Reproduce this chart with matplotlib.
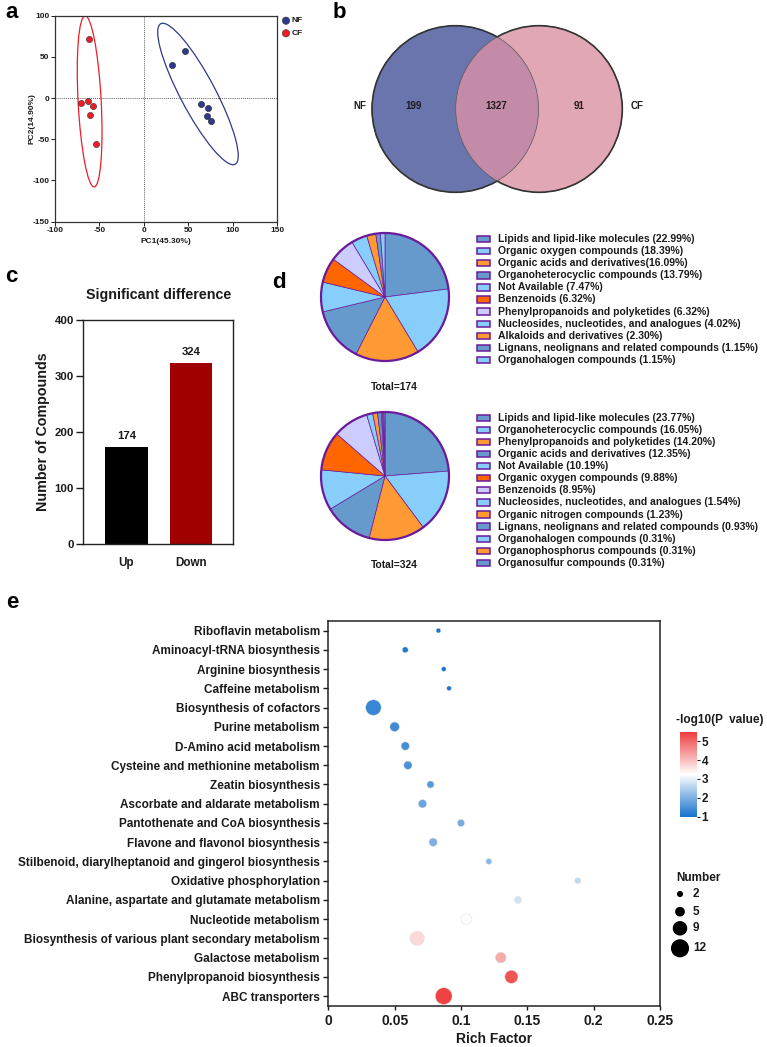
import matplotlib
matplotlib.use('Agg')
import matplotlib.pyplot as plt
from matplotlib.patches import Ellipse, Circle, Rectangle, Arc
from matplotlib.colors import LinearSegmentedColormap, Normalize
import numpy as np

plt.rcParams['font.family'] = ['Liberation Sans', 'DejaVu Sans']
plt.rcParams['font.weight'] = 'bold'
plt.rcParams['axes.labelweight'] = 'bold'
plt.rcParams['axes.unicode_minus'] = False

# ---------------- data ----------------
# panel a (PCA)
nf_x = [32, 46, 64, 72, 71, 76]
nf_y = [40, 57, -7, -12, -22, -28]
cf_x = [-62, -71, -63, -57, -61, -54]
cf_y = [72, -6, -4, -10, -21, -56]
pca_stats = ['R=0.99', 'P=0.004']

# panel b (Venn)
venn_sets = ['NF', 'CF']
venn_counts = [199, 1327, 91]

# panel c (bar)
bar_cats = ['Up', 'Down']
bar_vals = [174, 324]

# panel d (pies)
pie1_labels = ['Lipids and lipid-like molecules (22.99%)',
               'Organic oxygen compounds (18.39%)',
               'Organic acids and derivatives(16.09%)',
               'Organoheterocyclic compounds (13.79%)',
               'Not Available (7.47%)',
               'Benzenoids (6.32%)',
               'Phenylpropanoids and polyketides (6.32%)',
               'Nucleosides, nucleotides, and analogues (4.02%)',
               'Alkaloids and derivatives (2.30%)',
               'Lignans, neolignans and related compounds (1.15%)',
               'Organohalogen compounds (1.15%)']
pie1_vals = [22.99, 18.39, 16.09, 13.79, 7.47, 6.32, 6.32, 4.02, 2.30, 1.15, 1.15]
pie1_total = 174

pie2_labels = ['Lipids and lipid-like molecules (23.77%)',
               'Organoheterocyclic compounds (16.05%)',
               'Phenylpropanoids and polyketides (14.20%)',
               'Organic acids and derivatives (12.35%)',
               'Not Available (10.19%)',
               'Organic oxygen compounds (9.88%)',
               'Benzenoids (8.95%)',
               'Nucleosides, nucleotides, and analogues (1.54%)',
               'Organic nitrogen compounds (1.23%)',
               'Lignans, neolignans and related compounds (0.93%)',
               'Organohalogen compounds (0.31%)',
               'Organophosphorus compounds (0.31%)',
               'Organosulfur compounds (0.31%)']
pie2_vals = [23.77, 16.05, 14.20, 12.35, 10.19, 9.88, 8.95, 1.54, 1.23, 0.93, 0.31, 0.31, 0.31]
pie2_total = 324

# panel e (KEGG bubble)
pathways = ['Riboflavin metabolism',
            'Aminoacyl-tRNA biosynthesis',
            'Arginine biosynthesis',
            'Caffeine metabolism',
            'Biosynthesis of cofactors',
            'Purine metabolism',
            'D-Amino acid metabolism',
            'Cysteine and methionine metabolism',
            'Zeatin biosynthesis',
            'Ascorbate and aldarate metabolism',
            'Pantothenate and CoA biosynthesis',
            'Flavone and flavonol biosynthesis',
            'Stilbenoid, diarylheptanoid and gingerol biosynthesis',
            'Oxidative phosphorylation',
            'Alanine, aspartate and glutamate metabolism',
            'Nucleotide metabolism',
            'Biosynthesis of various plant secondary metabolism',
            'Galactose metabolism',
            'Phenylpropanoid biosynthesis',
            'ABC transporters']
rich_factor = [0.083, 0.058, 0.087, 0.091, 0.034, 0.050, 0.058, 0.060, 0.077, 0.071,
               0.100, 0.079, 0.121, 0.188, 0.143, 0.104, 0.067, 0.130, 0.138, 0.087]
neglog_p = [1.0, 1.1, 1.05, 1.05, 1.3, 1.4, 1.45, 1.5, 1.6, 1.8,
            1.9, 2.0, 2.1, 2.6, 2.8, 3.3, 3.7, 4.2, 5.2, 5.4]
counts = [2, 3, 2, 2, 11, 6, 5, 5, 4, 5, 4, 5, 3, 3, 4, 7, 10, 7, 9, 12]
size_legend = [2, 5, 9, 12]
rich_ticks = [0, 0.05, 0.1, 0.15, 0.2, 0.25]
rich_ticklabels = ['0', '0.05', '0.1', '0.15', '0.2', '0.25']

# ---------------- figure ----------------
W, H = 767, 1047
fig = plt.figure(figsize=(W / 100, H / 100), dpi=100)


def px_axes(l, t, r, b):
    return fig.add_axes([l / W, 1 - b / H, (r - l) / W, (b - t) / H])


ov = fig.add_axes([0, 0, 1, 1], zorder=-1)
ov.set_xlim(0, W)
ov.set_ylim(H, 0)
ov.axis('off')

TXT = '#1a1a1a'

# panel labels
for lab, x, y in [('a', 5, 13), ('b', 333, 13), ('c', 5, 277), ('d', 272, 283), ('e', 6, 603)]:
    ov.text(x, y, lab, fontsize=16, fontweight='bold', ha='left', va='center', color='black')

# ---------------- panel a ----------------
axa = px_axes(55, 15.7, 277, 221.7)
NAVY = '#2E3A8C'
RED = '#EE1C25'
axa.add_patch(Ellipse((61, 5), 190, 40, angle=-64, fill=False, ec=NAVY, lw=0.9))
axa.add_patch(Ellipse((-61, -4), 208, 26, angle=92.8, fill=False, ec=RED, lw=0.9))
axa.axvline(0, color='#222222', ls=(0, (1, 1.5)), lw=0.6)
axa.axhline(0, color='#222222', ls=(0, (1, 1.5)), lw=0.6)
axa.scatter(nf_x, nf_y, s=20, color=NAVY, edgecolor='#222222', lw=0.4, zorder=3)
axa.scatter(cf_x, cf_y, s=20, color=RED, edgecolor='#333333', lw=0.4, zorder=3)
axa.set_xlim(-100, 150)
axa.set_ylim(-150, 100)
axa.set_xticks([-100, -50, 0, 50, 100, 150])
axa.set_yticks([-150, -100, -50, 0, 50, 100])
axa.tick_params(labelsize=6, length=3, width=0.7, pad=1, colors=TXT)
for s in axa.spines.values():
    s.set_linewidth(0.9)
    s.set_color('#333333')
ov.text(166, 241.7, 'PC1(45.30%)', fontsize=6, fontweight='bold', ha='center', va='center', color=TXT)
ov.text(31.7, 118.7, 'PC2(14.90%)', fontsize=6, fontweight='bold', ha='center', va='center',
        rotation=90, color=TXT)
ov.text(240.7, 23.3, pca_stats[0], fontsize=5.8, fontweight='bold', ha='left', va='center', color=TXT)
ov.text(240.7, 32.3, pca_stats[1], fontsize=5.8, fontweight='bold', ha='left', va='center', color=TXT)
ov.scatter([286, 286], [20.7, 33.3], s=28, c=[NAVY, RED], edgecolors='#333333', linewidths=0.4)
ov.text(291.5, 20.7, venn_sets[0], fontsize=6, fontweight='bold', ha='left', va='center', color=TXT)
ov.text(291.5, 33.3, venn_sets[1], fontsize=6, fontweight='bold', ha='left', va='center', color=TXT)

# ---------------- panel b ----------------
axb = px_axes(340, 15, 650, 205)
axb.set_xlim(0, 310)
axb.set_ylim(190, 0)
axb.axis('off')
r = 83.3
cl = (115.3, 94.0)
cr = (199.0, 94.0)
cL = Circle(cl, r, fc='#6A75AD', ec='none')
cR = Circle(cr, r, fc='#E1A7B5', ec='none')
axb.add_patch(cL)
axb.add_patch(cR)
cO = Circle(cr, r, fc='#C48BA8', ec='none')
axb.add_patch(cO)
cO.set_clip_path(cL)
d = cr[0] - cl[0]
th = np.degrees(np.arccos((d / 2) / r))
axb.add_patch(Circle(cl, r, fill=False, ec='#555555', lw=0.5))
axb.add_patch(Circle(cr, r, fill=False, ec='#555555', lw=0.5))
axb.add_patch(Arc(cl, 2 * r, 2 * r, theta1=th, theta2=360 - th, ec='#333333', lw=1.2))
axb.add_patch(Arc(cr, 2 * r, 2 * r, theta1=-(180 - th), theta2=180 - th, ec='#333333', lw=1.2))
vy = 91
axb.text(20, vy, venn_sets[0], fontsize=7, fontweight='bold', ha='center', va='center', color=TXT)
axb.text(73.3, vy, str(venn_counts[0]), fontsize=7, fontweight='bold', ha='center', va='center', color=TXT)
axb.text(156.7, vy, str(venn_counts[1]), fontsize=7, fontweight='bold', ha='center', va='center', color=TXT)
axb.text(239.3, vy, str(venn_counts[2]), fontsize=7, fontweight='bold', ha='center', va='center', color=TXT)
axb.text(296.7, vy, venn_sets[1], fontsize=7, fontweight='bold', ha='center', va='center', color=TXT)

# ---------------- panel c ----------------
axc = px_axes(83.3, 320, 233.3, 544.3)
xc = np.arange(len(bar_cats))
bars = axc.bar(xc, bar_vals, width=0.662, color=['#000000', '#A00000'])
axc.bar_label(bars, labels=[str(v) for v in bar_vals], padding=4, fontsize=8.2, fontweight='bold', color=TXT)
axc.set_xlim(-0.67, 1.66)
axc.set_ylim(0, 400)
axc.set_yticks([0, 100, 200, 300, 400])
axc.set_xticks(xc)
axc.set_xticklabels(bar_cats)
axc.tick_params(axis='y', labelsize=8.2, length=4.8, width=1, pad=1.9, colors=TXT)
axc.tick_params(axis='x', labelsize=8.4, length=0, pad=9, colors=TXT)
for s in axc.spines.values():
    s.set_linewidth(1.0)
    s.set_color('#222222')
ov.text(158.3, 295, 'Significant difference', fontsize=10.3, fontweight='bold', ha='center', va='center', color=TXT)
ov.text(43, 432, 'Number of Compounds', fontsize=10.3, fontweight='bold', ha='center', va='center',
        rotation=90, color=TXT)

# ---------------- panel d ----------------
SB = '#6699CC'
LB = '#87CEFA'
OR = '#FF9933'
RO = '#FF6600'
LV = '#CCCCFF'
PURP = '#6A1B9A'
cycle = [SB, LB, OR, SB, LB, RO, LV, LB, OR, SB, LB, OR, SB]


def draw_pie(cx, cy, rad, vals, labels, total, ty, ly0):
    m = rad * 1.04
    ax = px_axes(cx - m, cy - m, cx + m, cy + m)
    cols = cycle[:len(vals)]
    ax.pie(vals, colors=cols, startangle=90, counterclock=False,
           wedgeprops=dict(edgecolor=PURP, linewidth=0.5))
    ax.add_patch(Circle((0, 0), 1, fill=False, ec=PURP, lw=1.6))
    ax.set_xlim(-1.04, 1.04)
    ax.set_ylim(-1.04, 1.04)
    ax.set_aspect('equal')
    ax.axis('off')
    ov.text(394, ty, f'Total={total}', fontsize=7.4, fontweight='bold', ha='center', va='center', color=TXT)
    dy = 12.1
    for i, (lab, col) in enumerate(zip(labels, cols)):
        y = ly0 + i * dy
        ov.add_patch(Rectangle((476.5, y - 3.2), 13, 6.4, fc=col, ec=PURP, lw=1.1))
        ov.text(497.7, y, lab, fontsize=7.5, fontweight='bold', ha='left', va='center', color=TXT)


draw_pie(385, 297, 64, pie1_vals, pie1_labels, pie1_total, 387, 239)
draw_pie(385, 476, 64, pie2_vals, pie2_labels, pie2_total, 565, 417.7)

# ---------------- panel e ----------------
axe = px_axes(328.3, 621, 660, 1005.7)
cmap = LinearSegmentedColormap.from_list('bwr_custom', ['#1874CD', '#FFFFFF', '#EE3B3B'])
norm = Normalize(1, 5.5)


def bubble_size(n):
    return ((2.3 + 1.2 * np.asarray(n, dtype=float)) * 0.72) ** 2


ye = np.arange(len(pathways))
sc = axe.scatter(rich_factor, ye, s=bubble_size(counts), c=neglog_p, cmap=cmap, norm=norm,
                 edgecolors='#dddddd', linewidths=0.3, zorder=3)
axe.set_ylim(len(pathways) - 0.5, -0.5)
axe.set_yticks(ye)
axe.set_yticklabels(pathways)
axe.set_xlim(0, 0.25)
axe.set_xticks(rich_ticks)
axe.set_xticklabels(rich_ticklabels)
axe.tick_params(axis='y', labelsize=8.5, length=3.5, width=1, pad=2.5, colors=TXT)
axe.tick_params(axis='x', labelsize=10, length=3, width=1, pad=3, colors=TXT)
for s in axe.spines.values():
    s.set_linewidth(1.1)
    s.set_color('#222222')
axe.set_xlabel('Rich Factor', fontsize=10, fontweight='bold', labelpad=3, color=TXT)

cax = px_axes(680, 731.7, 696.7, 816.7)
cb = fig.colorbar(sc, cax=cax)
cb.set_ticks([1, 2, 3, 4, 5])
cb.outline.set_visible(False)
cax.tick_params(labelsize=8.5, length=2, width=0.8, pad=1.5, colors=TXT)
for t in cax.get_yticklabels():
    t.set_fontweight('bold')
ov.text(676, 720, '-log10(P  value)', fontsize=8.5, fontweight='bold', ha='left', va='center', color=TXT)

ov.text(676, 878, 'Number', fontsize=8.5, fontweight='bold', ha='left', va='center', color=TXT)
leg_y = [894, 911.7, 928.3, 948.3]
ov.scatter([680] * len(size_legend), leg_y, s=bubble_size(size_legend), color='black')
for n, yy in zip(size_legend, leg_y):
    ov.text(693, yy, str(n), fontsize=8.5, fontweight='bold', ha='left', va='center', color=TXT)

fig.savefig('out.png', dpi=100)
